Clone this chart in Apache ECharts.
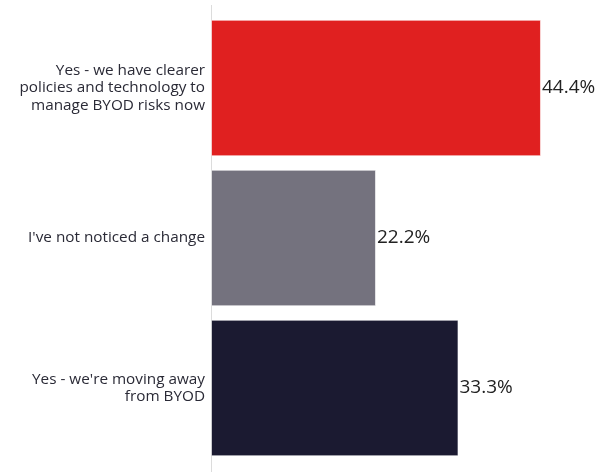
<!DOCTYPE html>
<html>
<head>
<meta charset="utf-8">
<script src="https://cdn.jsdelivr.net/npm/echarts@6/dist/echarts.min.js"></script>
<style>
  html, body { margin: 0; padding: 0; background: #ffffff; }
  #chart { width: 602px; height: 472px; }
</style>
</head>
<body>
<div id="chart"></div>
<script>
// Survey answers and their shares (%)
const categories = [
  'Yes - we have clearer\npolicies and technology to\nmanage BYOD risks now',
  "I've not noticed a change",
  "Yes - we're moving away\nfrom BYOD"
];
const values = [44.4, 22.2, 33.3];
const barColors = ['#e02020', '#74727e', '#1b1a31'];

const chart = echarts.init(document.getElementById('chart'), null, { renderer: 'canvas' });

chart.setOption({
  animation: false,
  backgroundColor: '#ffffff',
  grid: { left: 211, top: 13, width: 371.6, height: 450, containLabel: false },
  xAxis: {
    type: 'value',
    min: 0,
    max: 50,
    show: false
  },
  yAxis: {
    type: 'category',
    data: categories,
    inverse: true,
    axisLine: { show: false },
    axisTick: { show: false },
    splitLine: { show: false },
    axisLabel: {
      margin: 6,
      fontFamily: 'Open Sans',
      fontSize: 15.3,
      lineHeight: 17.5,
      color: '#2a2a36',
      align: 'right'
    }
  },
  graphic: [{
    type: 'line',
    shape: { x1: 211.5, y1: 5, x2: 211.5, y2: 472 },
    style: { stroke: '#dcdcdc', lineWidth: 1 },
    z: 0
  }],
  series: [{
    type: 'bar',
    data: values.map((v, i) => ({ value: v, itemStyle: { color: barColors[i] } })),
    barCategoryGap: '9%',
    itemStyle: { borderColor: 'rgba(255,255,255,0.6)', borderWidth: 1 },
    label: {
      show: true,
      position: 'right',
      distance: 1,
      formatter: p => p.value.toFixed(1) + '%',
      fontFamily: 'Open Sans',
      fontSize: 19,
      color: '#222222'
    }
  }]
});
</script>
</body>
</html>
